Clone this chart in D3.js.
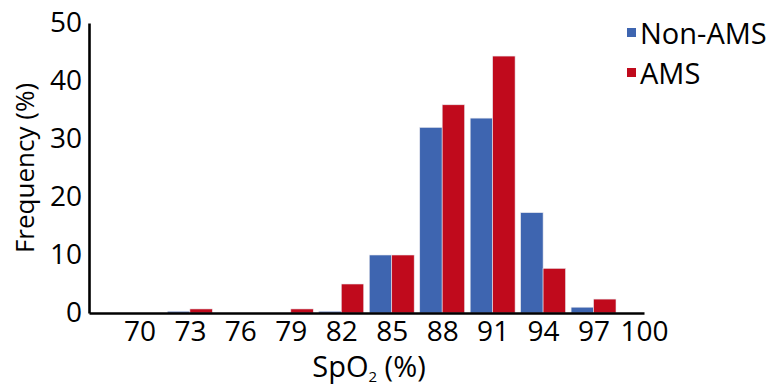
<!DOCTYPE html>
<html>
<head>
<meta charset="utf-8">
<script src="https://cdn.jsdelivr.net/npm/d3@7"></script>
<style>
  html, body { margin: 0; padding: 0; background: #fff; }
  svg { display: block; font-family: "Open Sans", "DejaVu Sans", sans-serif; }
</style>
</head>
<body>
<svg id="chart" width="772" height="386"></svg>
<script>
const categories = [70, 73, 76, 79, 82, 85, 88, 91, 94, 97];
const xTicks = [70, 73, 76, 79, 82, 85, 88, 91, 94, 97, 100];
const yTicks = [0, 10, 20, 30, 40, 50];
const nonAMS = [0, 0.3, 0, 0, 0.3, 10.0, 32.0, 33.6, 17.3, 1.0];
const AMS    = [0, 0.7, 0, 0.7, 5.0, 10.0, 35.9, 44.3, 7.7, 2.4];
const seriesNames = ["Non-AMS", "AMS"];
const colors = ["#3E65B0", "#C00A1C"];

const svg = d3.select("#chart");
const margin = { left: 89, right: 128, top: 23, bottom: 73 };

const x = d3.scaleLinear().domain([67, 100]).range([margin.left, 644]);
const y = d3.scaleLinear().domain([0, 50]).range([313, margin.top]);

const step = x(73) - x(70);
const groupW = step * 0.89;
const barW = groupW / 2;

const series = [nonAMS, AMS];
series.forEach((vals, si) => {
  svg.append("g").selectAll("rect")
    .data(categories.map((c, i) => ({ c, v: vals[i] })))
    .join("rect")
    .attr("x", d => x(d.c) - groupW / 2 + si * barW)
    .attr("width", barW)
    .attr("y", d => y(d.v))
    .attr("height", d => y(0) - y(d.v))
    .attr("fill", colors[si])
    .attr("stroke", "#e8e8ee")
    .attr("stroke-width", 0.6);
});

// Y axis
const yAxis = svg.append("g")
  .attr("transform", `translate(${margin.left},0)`)
  .call(d3.axisLeft(y).tickValues(yTicks).tickSize(0).tickPadding(7));
yAxis.select(".domain").attr("stroke", "#000").attr("stroke-width", 2.6);
yAxis.selectAll("text").attr("font-size", 28).attr("fill", "#000")
  .attr("font-family", "'Open Sans', sans-serif");

// X axis
const xAxis = svg.append("g")
  .attr("transform", `translate(0,${y(0)})`)
  .call(d3.axisBottom(x).tickValues(xTicks).tickSize(0).tickPadding(8));
xAxis.select(".domain").attr("stroke", "#000").attr("stroke-width", 2.6);
xAxis.selectAll("text").attr("font-size", 28).attr("fill", "#000")
  .attr("font-family", "'Open Sans', sans-serif");

// Axis titles
const xt = svg.append("text")
  .attr("x", 369)
  .attr("y", 377)
  .attr("text-anchor", "middle")
  .attr("font-size", 29)
  .attr("fill", "#000");
xt.append("tspan").text("SpO");
xt.append("tspan").text("2").attr("font-size", 15).attr("dy", 5);
xt.append("tspan").text(" (%)").attr("dy", -5);

svg.append("text")
  .attr("transform", `translate(34,${(y(0) + y(50)) / 2}) rotate(-90)`)
  .attr("text-anchor", "middle")
  .attr("font-size", 26)
  .attr("fill", "#000")
  .text("Frequency (%)");

// Legend
const legend = svg.append("g");
seriesNames.forEach((n, i) => {
  const g = legend.append("g").attr("transform", `translate(627,${28 + i * 40})`);
  g.append("rect").attr("width", 9).attr("height", 9).attr("fill", colors[i]);
  g.append("text").attr("x", 13).attr("y", 15.5).attr("font-size", 29)
    .attr("fill", "#000").text(n);
});
</script>
</body>
</html>
